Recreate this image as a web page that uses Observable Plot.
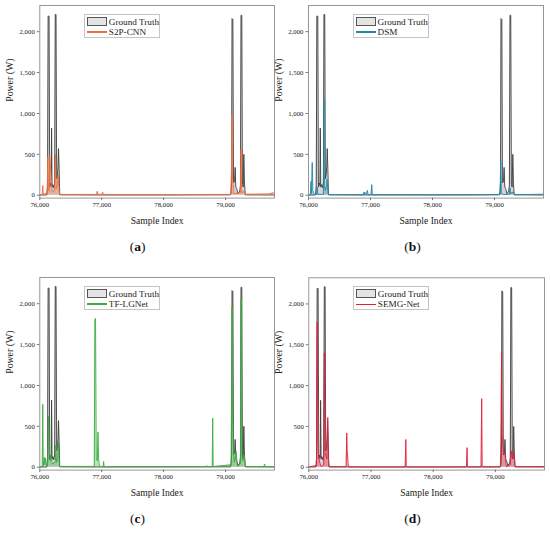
<!DOCTYPE html>
<html><head><meta charset="utf-8">
<script src="https://cdn.jsdelivr.net/npm/d3@7"></script>
<script src="https://cdn.jsdelivr.net/npm/@observablehq/plot@0.6"></script>
<style>
body{margin:0;background:#fff;font-family:"Liberation Serif","Times New Roman",Times,serif;}
#wrap{position:relative;width:550px;height:533px;overflow:hidden;}
.panel{position:absolute;width:275px;height:262px;}
.panel svg{position:absolute;left:0;top:0;}
.legend{position:absolute;width:74px;height:22px;border:1px solid #c4c4c4;background:#fff;font-size:9.2px;color:#222;}
.row{position:absolute;left:1.5px;height:10px;display:flex;align-items:center;white-space:nowrap;}
.sw{width:20px;height:9px;margin-right:2px;box-sizing:border-box;flex-shrink:0;}
.cap{position:absolute;left:0;width:275px;text-align:center;font-size:13.5px;color:#111;}
</style>
</head><body><div id="wrap"></div>
<script>
// ---- data ----
const xTicks = [76000, 77000, 78000, 79000];
const yTicks = [0, 500, 1000, 1500, 2000];
const panelLetters = ["a", "b", "c", "d"];
const modelNames = ["S2P-CNN", "DSM", "TF-LGNet", "SEMG-Net"];

const gtIndex = [76000,76100,76115,76125,76135,76150,76160,76175,76185,76190,76198,76210,76225,76240,76250,76262,76272,76285,76295,76302,76312,76322,77000,78000,79080,79090,79097,79105,79118,79128,79145,79155,79165,79180,79200,79230,79240,79250,79262,79272,79285,79295,79305,79318,79790];
const gtPower = [3,3,5,120,2190,2190,100,150,120,820,100,130,90,150,2210,2210,200,250,350,570,330,5,3,3,5,40,150,2160,2150,150,170,340,100,80,20,50,120,2200,2200,130,100,500,150,5,3];

const s2pIndex = [76000,76040,76048,76056,76120,76130,76140,76150,76160,76200,76240,76255,76265,76280,76300,76310,76325,76900,76920,76928,76936,77005,77015,77025,78000,79085,79095,79102,79112,79122,79135,79240,79250,79258,79270,79300,79320,79700,79770,79790];
const s2pPower = [8,8,120,10,30,470,60,50,480,40,60,500,80,120,250,60,10,10,15,50,12,10,40,10,8,10,300,990,200,150,20,30,560,80,30,50,12,15,30,20];

const dsmIndex = [76000,76030,76040,76050,76060,76070,76080,76095,76130,76140,76150,76240,76250,76258,76270,76290,76300,76310,76320,76880,76895,76905,76920,76940,76950,76960,77010,77020,77030,78540,78550,78560,79090,79100,79110,79140,79240,79250,79260,79300,79320,79600,79790];
const dsmPower = [5,5,170,20,400,60,40,8,10,100,10,10,1180,120,60,120,200,60,8,5,40,10,30,20,60,8,10,130,8,5,12,5,10,420,30,10,10,90,20,40,8,10,12];

const tfIndex = [76000,76040,76048,76056,76075,76082,76092,76100,76108,76130,76140,76150,76170,76180,76200,76250,76260,76270,76290,76300,76315,76880,76890,76900,76912,76930,76940,76950,76965,77025,77030,77040,78690,78700,78710,78785,78792,78800,79090,79105,79112,79120,79128,79140,79170,79190,79240,79250,79256,79265,79280,79300,79320,79620,79630,79640,79790];
const tfPower = [5,5,770,20,120,30,110,20,10,60,620,100,80,150,40,60,270,60,120,300,10,10,1800,1820,100,80,430,90,10,10,70,8,8,20,8,8,600,8,30,1960,720,400,150,60,200,10,40,2050,300,80,80,150,10,8,40,8,8];

const semgIndex = [76000,76125,76135,76145,76155,76175,76200,76240,76250,76258,76270,76290,76305,76315,76330,76600,76610,76618,76630,76640,77550,77560,77568,77580,78535,78545,78552,78565,78770,78780,78788,78800,79080,79090,79100,79110,79125,79145,79155,79175,79240,79255,79270,79290,79300,79315,79600,79790];
const semgPower = [3,20,1780,300,150,60,5,30,1400,200,150,100,610,80,5,5,420,200,60,3,3,340,10,3,3,240,10,3,3,840,10,3,3,300,1420,400,200,170,150,5,30,200,100,120,190,5,8,8];

const seriesIndex = [s2pIndex, dsmIndex, tfIndex, semgIndex];
const seriesPower = [s2pPower, dsmPower, tfPower, semgPower];

// ---- styles / layout ----
const colors = ["#f26d3d", "#2189a8", "#3aae3f", "#e3203a"];
const layout = [
  {left: 0,   top: 0,   ml: 39.3, mr: 1,  mt: 5},
  {left: 275, top: 0,   ml: 33,   mr: 7,  mt: 5},
  {left: 0,   top: 272, ml: 39.3, mr: 1,  mt: 5},
  {left: 275, top: 272, ml: 33.3, mr: 6,  mt: 5.3}
];
const font = '"Liberation Serif","Times New Roman",Times,serif';
const wrap = document.getElementById("wrap");
const gt = gtIndex.map((x, i) => ({x, y: gtPower[i]}));

panelLetters.forEach((letter, k) => {
  const L = layout[k];
  const pr = seriesIndex[k].map((x, i) => ({x, y: seriesPower[k][i]}));
  const c = colors[k];
  const div = document.createElement("div");
  div.className = "panel";
  div.style.left = L.left + "px";
  div.style.top = L.top + "px";
  const chart = Plot.plot({
    width: 275, height: 229,
    marginLeft: L.ml, marginRight: L.mr, marginTop: L.mt, marginBottom: 31.4,
    style: {fontFamily: font, fontSize: "6.8px", color: "#222", background: "transparent", overflow: "visible"},
    x: {domain: [76000, 79790]},
    y: {domain: [-35, 2320]},
    marks: [
      Plot.areaY(gt, {x: "x", y: "y", fill: "#d6d6d6"}),
      Plot.lineY(gt, {x: "x", y: "y", stroke: "#3c3c3c", strokeWidth: 0.9}),
      Plot.areaY(pr, {x: "x", y: "y", fill: c, fillOpacity: 0.35}),
      Plot.lineY(pr, {x: "x", y: "y", stroke: c, strokeWidth: 0.9}),
      Plot.frame({stroke: "#8c8c8c", strokeWidth: 0.9}),
      Plot.axisX({ticks: xTicks, tickFormat: d3.format(","), tickSize: 2.5, tickPadding: 1.5, label: null, stroke: "#777"}),
      Plot.axisY({ticks: yTicks, tickFormat: d3.format(","), tickSize: 2.5, tickPadding: 2.5, label: null, stroke: "#777"}),
      Plot.text(["Sample Index"], {frameAnchor: "bottom", dy: 22.5, fontSize: 9.6, fill: "#222", lineAnchor: "middle"}),
      Plot.text(["Power (W)"], {frameAnchor: "left", dx: -29.5, rotate: -90, fontSize: 9.8, fill: "#222"})
    ]
  });
  div.appendChild(chart);

  const lg = document.createElement("div");
  lg.className = "legend";
  lg.style.left = (L.ml + 45) + "px";
  lg.style.top = (L.mt + 9) + "px";
  lg.innerHTML =
    `<div class="row" style="top:1.5px"><div class="sw" style="background:#e4e4e4;border:1px solid #555"></div><span>Ground Truth</span></div>` +
    `<div class="row" style="top:12px"><div class="sw" style="height:1.3px;background:${c}"></div><span>${modelNames[k]}</span></div>`;
  div.appendChild(lg);

  const cap = document.createElement("div");
  cap.className = "cap";
  cap.style.top = "239px";
  cap.innerHTML = `(<b>${letter}</b>)`;
  div.appendChild(cap);

  wrap.appendChild(div);
});
</script>
</body></html>
